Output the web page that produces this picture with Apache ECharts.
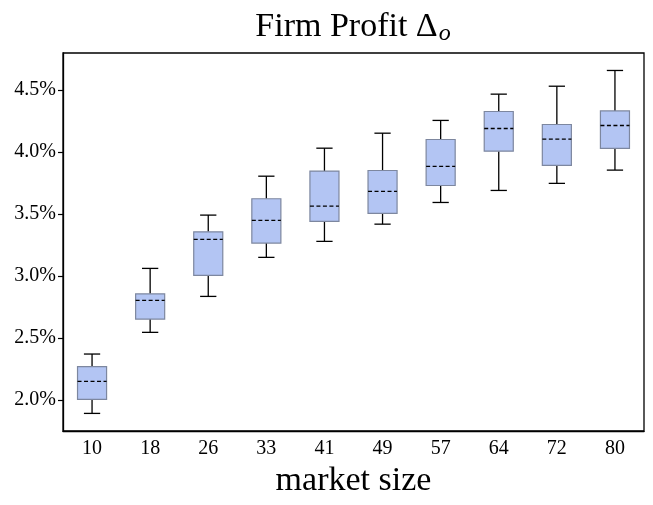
<!DOCTYPE html>
<html>
<head>
<meta charset="utf-8">
<script src="https://cdn.jsdelivr.net/npm/echarts@6/dist/echarts.min.js"></script>
<style>
  html, body { margin: 0; padding: 0; background: #fff; }
  #chart { width: 653px; height: 505px; }
</style>
</head>
<body>
<div id="chart"></div>
<script>
var marketSizes = ['10', '18', '26', '33', '41', '49', '57', '64', '72', '80'];
var lowerWhisker = [1.892, 2.546, 2.836, 3.151, 3.280, 3.419, 3.594, 3.691, 3.748, 3.855];
var q1Values     = [2.005, 2.653, 3.005, 3.266, 3.441, 3.506, 3.731, 4.008, 3.893, 4.030];
var medianValues = [2.151, 2.804, 3.296, 3.449, 3.565, 3.683, 3.885, 4.191, 4.105, 4.215];
var q3Values     = [2.269, 2.857, 3.357, 3.624, 3.847, 3.852, 4.102, 4.328, 4.223, 4.333];
var upperWhisker = [2.371, 3.062, 3.492, 3.806, 4.032, 4.153, 4.256, 4.468, 4.532, 4.659];
var yTicks = [2.0, 2.5, 3.0, 3.5, 4.0, 4.5];

var chart = echarts.init(document.getElementById('chart'));
var FONT = '"Liberation Serif", serif';

var boxData = marketSizes.map(function (m, i) {
    return [i, lowerWhisker[i], q1Values[i], medianValues[i], q3Values[i], upperWhisker[i]];
});

function renderBox(params, api) {
    var idx = api.value(0);
    var pLow = api.coord([idx, api.value(1)]);
    var pQ1 = api.coord([idx, api.value(2)]);
    var pMed = api.coord([idx, api.value(3)]);
    var pQ3 = api.coord([idx, api.value(4)]);
    var pHigh = api.coord([idx, api.value(5)]);
    var band = api.size([1, 0])[0];
    var half = band * 0.25;
    var cap = band * 0.14;
    var x = pQ1[0];
    var black = { stroke: '#000', lineWidth: 1.3 };
    return {
        type: 'group',
        children: [
            { type: 'line', shape: { x1: x, y1: pLow[1], x2: x, y2: pQ1[1] }, style: black },
            { type: 'line', shape: { x1: x, y1: pQ3[1], x2: x, y2: pHigh[1] }, style: black },
            { type: 'line', shape: { x1: x - cap, y1: pLow[1], x2: x + cap, y2: pLow[1] }, style: black },
            { type: 'line', shape: { x1: x - cap, y1: pHigh[1], x2: x + cap, y2: pHigh[1] }, style: black },
            {
                type: 'rect',
                shape: { x: x - half, y: pQ3[1], width: half * 2, height: pQ1[1] - pQ3[1] },
                style: { fill: '#b3c5f3', stroke: '#7d879f', lineWidth: 1.2 }
            },
            {
                type: 'line',
                shape: { x1: x - half, y1: pMed[1], x2: x + half, y2: pMed[1] },
                style: { stroke: '#000', lineWidth: 1.3, lineDash: [4, 2.5] }
            }
        ]
    };
}

var option = {
    animation: false,
    backgroundColor: '#fff',
    title: {
        text: '{a|Firm Profit Δ}{s|o}',
        left: 348,
        textAlign: 'center',
        top: 2,
        textStyle: {
            rich: {
                a: { fontFamily: FONT, fontSize: 34, fontWeight: 'normal', color: '#000', lineHeight: 40 },
                s: { fontFamily: FONT, fontSize: 24, fontWeight: 'normal', fontStyle: 'italic', color: '#000', padding: [14, 0, 0, 1] }
            }
        }
    },
    grid: {
        left: 63, right: 9, top: 53, bottom: 74,
        outerBoundsMode: 'none',
        containLabel: false,
        show: true, borderColor: '#000', borderWidth: 1.3, backgroundColor: 'transparent'
    },
    xAxis: {
        type: 'category',
        data: marketSizes,
        name: 'market size',
        nameLocation: 'middle',
        nameGap: 32,
        nameTextStyle: { fontFamily: FONT, fontSize: 34, color: '#000' },
        axisLine: { lineStyle: { color: '#000', width: 1.3 } },
        axisTick: { alignWithLabel: true, length: 5, lineStyle: { color: '#000', width: 1.2 } },
        axisLabel: { fontFamily: FONT, fontSize: 20, color: '#000', margin: 8 },
        splitLine: { show: false }
    },
    yAxis: {
        type: 'value',
        min: 1.75,
        max: 4.8,
        axisLine: { show: true, lineStyle: { color: '#000', width: 1.3 } },
        axisTick: { show: true, length: 5, customValues: yTicks, lineStyle: { color: '#000', width: 1.2 } },
        axisLabel: {
            fontFamily: FONT, fontSize: 20, color: '#000', margin: 7,
            customValues: yTicks,
            formatter: function (v) { return v.toFixed(1) + '%'; }
        },
        splitLine: { show: false }
    },
    series: [{
        type: 'custom',
        renderItem: renderBox,
        encode: { x: 0, y: [1, 2, 3, 4, 5] },
        data: boxData
    }]
};

chart.setOption(option);
</script>
</body>
</html>
